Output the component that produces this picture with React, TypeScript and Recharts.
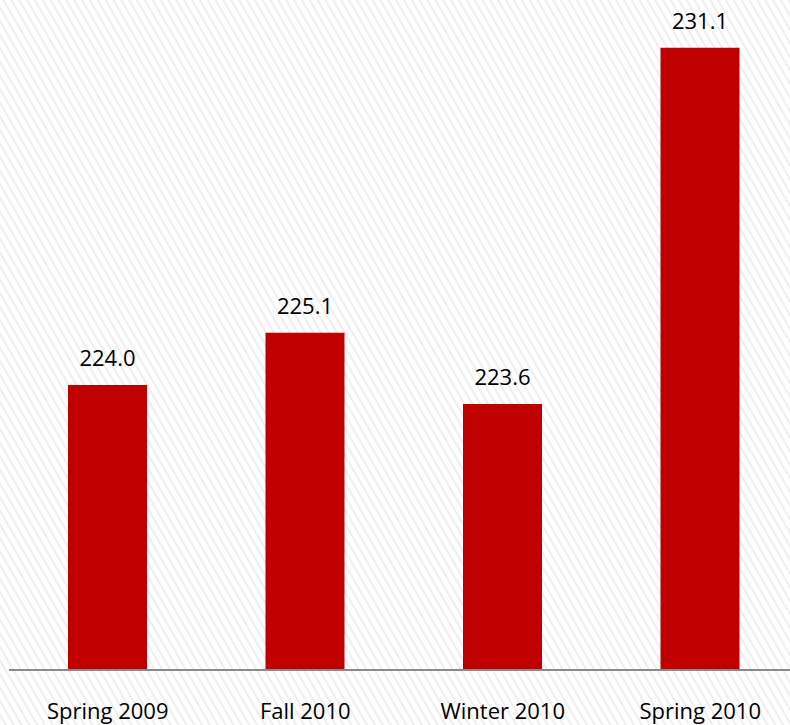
import React from "react";
import { BarChart, Bar, XAxis, YAxis, LabelList } from "recharts";

const terms = ["Spring 2009", "Fall 2010", "Winter 2010", "Spring 2010"];
const scores = [224.0, 225.1, 223.6, 231.1];

const data = terms.map((term, i) => ({ term, score: scores[i] }));

const font = "'Open Sans', sans-serif";

const App: React.FC = () => {
  return (
    <div
      style={{
        position: "absolute",
        left: 0,
        top: 0,
        width: 790,
        height: 725,
        overflow: "hidden",
        background:
          "repeating-linear-gradient(60deg, #ffffff 0px, #ffffff 3.5px, #ebebeb 5px, #ffffff 6.8px)",
      }}
    >
      <BarChart
        width={800}
        height={725}
        data={data}
        margin={{ top: 5, right: 1, bottom: 0, left: 9 }}
      >
        <XAxis
          dataKey="term"
          height={55}
          axisLine={{ stroke: "#8a8a8a", strokeWidth: 2 }}
          tickLine={false}
          tickSize={6}
          tickMargin={27}
          tick={{ fill: "#000", fontSize: 22, fontFamily: font }}
        />
        <YAxis hide domain={[218, 232]} allowDataOverflow />
        <Bar dataKey="score" fill="#C00000" barSize={79} isAnimationActive={false}>
          <LabelList
            dataKey="score"
            position="top"
            offset={19}
            formatter={(v: number) => v.toFixed(1)}
            style={{ fill: "#000", fontSize: 22, fontFamily: font }}
          />
        </Bar>
      </BarChart>
    </div>
  );
};

export default App;
